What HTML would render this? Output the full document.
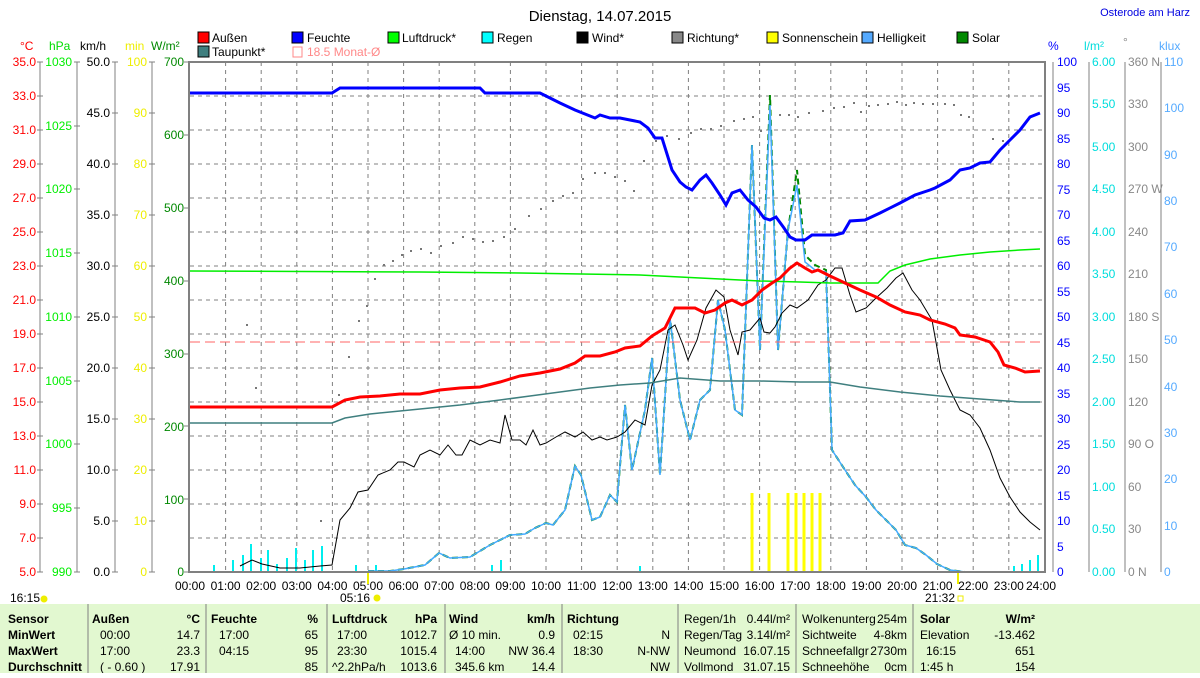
<!DOCTYPE html>
<html><head><meta charset="utf-8"><style>
body{margin:0;background:#fff;width:1200px;height:673px;overflow:hidden;font-family:"Liberation Sans",sans-serif}
svg text{font-family:"Liberation Sans",sans-serif;font-size:12px}
</style></head><body>
<svg width="1200" height="673" viewBox="0 0 1200 673" xmlns="http://www.w3.org/2000/svg">
<rect width="1200" height="673" fill="#fff"/>
<text x="600" y="21" text-anchor="middle" style="font-size:15px">Dienstag, 14.07.2015</text>
<text x="1190" y="16" text-anchor="end" fill="#0000e0" style="font-size:11px">Osterode am Harz</text>
<g style="font-size:12px">
<rect x="198" y="32" width="11" height="11" fill="#f00" stroke="#000"/><text x="212" y="42">Außen</text>
<rect x="292" y="32" width="11" height="11" fill="#00f" stroke="#000"/><text x="307" y="42">Feuchte</text>
<rect x="388" y="32" width="11" height="11" fill="#0f0" stroke="#000"/><text x="402" y="42">Luftdruck*</text>
<rect x="482" y="32" width="11" height="11" fill="#0ff" stroke="#000"/><text x="497" y="42">Regen</text>
<rect x="577" y="32" width="11" height="11" fill="#000" stroke="#000"/><text x="592" y="42">Wind*</text>
<rect x="672" y="32" width="11" height="11" fill="#888" stroke="#000"/><text x="687" y="42">Richtung*</text>
<rect x="767" y="32" width="11" height="11" fill="#ff0" stroke="#000"/><text x="782" y="42">Sonnenschein</text>
<rect x="862" y="32" width="11" height="11" fill="#5af" stroke="#000"/><text x="877" y="42">Helligkeit</text>
<rect x="957" y="32" width="11" height="11" fill="#080" stroke="#000"/><text x="972" y="42">Solar</text>
<rect x="198" y="46" width="11" height="11" fill="#3f7f7f" stroke="#000"/><text x="212" y="56">Taupunkt*</text>
<rect x="293" y="47" width="9" height="10" fill="none" stroke="#f88"/><text x="307" y="56" fill="#f88">18.5 Monat-Ø</text>
</g>
<g style="font-size:11px">
<text x="20" y="50" fill="#f00">°C</text><text x="49" y="50" fill="#0d0">hPa</text><text x="80" y="50">km/h</text>
<text x="125" y="50" fill="#ee0">min</text><text x="151" y="50" fill="#080">W/m²</text>
<text x="1048" y="50" fill="#00f">%</text><text x="1084" y="50" fill="#0dd">l/m²</text><text x="1123" y="46" fill="#888">°</text><text x="1159" y="50" fill="#5af">klux</text>
</g>
<g stroke="#808080" stroke-dasharray="4,4" stroke-width="1">
<line x1="190" y1="96" x2="1044" y2="96"/><line x1="190" y1="130" x2="1044" y2="130"/><line x1="190" y1="164" x2="1044" y2="164"/><line x1="190" y1="198" x2="1044" y2="198"/><line x1="190" y1="232" x2="1044" y2="232"/><line x1="190" y1="266" x2="1044" y2="266"/><line x1="190" y1="300" x2="1044" y2="300"/><line x1="190" y1="334" x2="1044" y2="334"/><line x1="190" y1="368" x2="1044" y2="368"/><line x1="190" y1="402" x2="1044" y2="402"/><line x1="190" y1="436" x2="1044" y2="436"/><line x1="190" y1="470" x2="1044" y2="470"/><line x1="190" y1="504" x2="1044" y2="504"/><line x1="190" y1="538" x2="1044" y2="538"/>
<line x1="225.6" y1="62" x2="225.6" y2="572"/><line x1="261.2" y1="62" x2="261.2" y2="572"/><line x1="296.8" y1="62" x2="296.8" y2="572"/><line x1="332.4" y1="62" x2="332.4" y2="572"/><line x1="368" y1="62" x2="368" y2="572"/><line x1="403.6" y1="62" x2="403.6" y2="572"/><line x1="439.2" y1="62" x2="439.2" y2="572"/><line x1="474.8" y1="62" x2="474.8" y2="572"/><line x1="510.4" y1="62" x2="510.4" y2="572"/><line x1="546" y1="62" x2="546" y2="572"/><line x1="581.6" y1="62" x2="581.6" y2="572"/><line x1="617.2" y1="62" x2="617.2" y2="572"/><line x1="652.8" y1="62" x2="652.8" y2="572"/><line x1="688.4" y1="62" x2="688.4" y2="572"/><line x1="724" y1="62" x2="724" y2="572"/><line x1="759.6" y1="62" x2="759.6" y2="572"/><line x1="795.2" y1="62" x2="795.2" y2="572"/><line x1="830.8" y1="62" x2="830.8" y2="572"/><line x1="866.4" y1="62" x2="866.4" y2="572"/><line x1="902" y1="62" x2="902" y2="572"/><line x1="937.6" y1="62" x2="937.6" y2="572"/><line x1="973.2" y1="62" x2="973.2" y2="572"/><line x1="1008.8" y1="62" x2="1008.8" y2="572"/>
</g>
<g stroke="#808080" stroke-width="1" fill="none">
<line x1="40" y1="62" x2="40" y2="572"/><line x1="77" y1="62" x2="77" y2="572"/><line x1="115" y1="62" x2="115" y2="572"/><line x1="152" y1="62" x2="152" y2="572"/>
<line x1="1053" y1="62" x2="1053" y2="572"/><line x1="1089" y1="62" x2="1089" y2="572"/><line x1="1125" y1="62" x2="1125" y2="572"/><line x1="1161" y1="62" x2="1161" y2="572"/>
<path d="M37 62h6M37 96h6M37 130h6M37 164h6M37 198h6M37 232h6M37 266h6M37 300h6M37 334h6M37 368h6M37 402h6M37 436h6M37 470h6M37 504h6M37 538h6M37 572h6
M74 62h6M74 126h6M74 189h6M74 253h6M74 317h6M74 381h6M74 444h6M74 508h6M74 572h6
M112 62h6M112 113h6M112 164h6M112 215h6M112 266h6M112 317h6M112 368h6M112 419h6M112 470h6M112 521h6M112 572h6
M149 62h6M149 113h6M149 164h6M149 215h6M149 266h6M149 317h6M149 368h6M149 419h6M149 470h6M149 521h6M149 572h6
M184 62h5M184 135h5M184 208h5M184 281h5M184 354h5M184 426h5M184 499h5M184 572h5"/>
</g>
<g style="font-size:12px" text-anchor="end">
<g fill="#f00"><text x="36" y="66">35.0</text><text x="36" y="100">33.0</text><text x="36" y="134">31.0</text><text x="36" y="168">29.0</text><text x="36" y="202">27.0</text><text x="36" y="236">25.0</text><text x="36" y="270">23.0</text><text x="36" y="304">21.0</text><text x="36" y="338">19.0</text><text x="36" y="372">17.0</text><text x="36" y="406">15.0</text><text x="36" y="440">13.0</text><text x="36" y="474">11.0</text><text x="36" y="508">9.0</text><text x="36" y="542">7.0</text><text x="36" y="576">5.0</text></g>
<g fill="#0e0"><text x="72" y="66">1030</text><text x="72" y="130">1025</text><text x="72" y="193">1020</text><text x="72" y="257">1015</text><text x="72" y="321">1010</text><text x="72" y="385">1005</text><text x="72" y="448">1000</text><text x="72" y="512">995</text><text x="72" y="576">990</text></g>
<g fill="#000"><text x="110" y="66">50.0</text><text x="110" y="117">45.0</text><text x="110" y="168">40.0</text><text x="110" y="219">35.0</text><text x="110" y="270">30.0</text><text x="110" y="321">25.0</text><text x="110" y="372">20.0</text><text x="110" y="423">15.0</text><text x="110" y="474">10.0</text><text x="110" y="525">5.0</text><text x="110" y="576">0.0</text></g>
<g fill="#ee0"><text x="147" y="66">100</text><text x="147" y="117">90</text><text x="147" y="168">80</text><text x="147" y="219">70</text><text x="147" y="270">60</text><text x="147" y="321">50</text><text x="147" y="372">40</text><text x="147" y="423">30</text><text x="147" y="474">20</text><text x="147" y="525">10</text><text x="147" y="576">0</text></g>
<g fill="#080"><text x="184" y="66">700</text><text x="184" y="139">600</text><text x="184" y="212">500</text><text x="184" y="285">400</text><text x="184" y="358">300</text><text x="184" y="431">200</text><text x="184" y="504">100</text><text x="184" y="576">0</text></g>
</g>
<g style="font-size:12px">
<g fill="#00f"><text x="1057" y="66">100</text><text x="1057" y="92">95</text><text x="1057" y="117">90</text><text x="1057" y="143">85</text><text x="1057" y="168">80</text><text x="1057" y="194">75</text><text x="1057" y="219">70</text><text x="1057" y="245">65</text><text x="1057" y="270">60</text><text x="1057" y="296">55</text><text x="1057" y="321">50</text><text x="1057" y="347">45</text><text x="1057" y="372">40</text><text x="1057" y="398">35</text><text x="1057" y="423">30</text><text x="1057" y="449">25</text><text x="1057" y="474">20</text><text x="1057" y="500">15</text><text x="1057" y="525">10</text><text x="1057" y="551">5</text><text x="1057" y="576">0</text></g>
<g fill="#0dd"><text x="1092" y="66">6.00</text><text x="1092" y="108">5.50</text><text x="1092" y="151">5.00</text><text x="1092" y="193">4.50</text><text x="1092" y="236">4.00</text><text x="1092" y="278">3.50</text><text x="1092" y="321">3.00</text><text x="1092" y="363">2.50</text><text x="1092" y="406">2.00</text><text x="1092" y="448">1.50</text><text x="1092" y="491">1.00</text><text x="1092" y="533">0.50</text><text x="1092" y="576">0.00</text></g>
<g fill="#888"><text x="1128" y="66">360 N</text><text x="1128" y="108">330</text><text x="1128" y="151">300</text><text x="1128" y="193">270 W</text><text x="1128" y="236">240</text><text x="1128" y="278">210</text><text x="1128" y="321">180 S</text><text x="1128" y="363">150</text><text x="1128" y="406">120</text><text x="1128" y="448">90 O</text><text x="1128" y="491">60</text><text x="1128" y="533">30</text><text x="1128" y="576">0 N</text></g>
<g fill="#5af"><text x="1164" y="66">110</text><text x="1164" y="112">100</text><text x="1164" y="159">90</text><text x="1164" y="205">80</text><text x="1164" y="251">70</text><text x="1164" y="298">60</text><text x="1164" y="344">50</text><text x="1164" y="391">40</text><text x="1164" y="437">30</text><text x="1164" y="483">20</text><text x="1164" y="530">10</text><text x="1164" y="576">0</text></g>
</g>
<g style="font-size:12px" text-anchor="middle">
<text x="190" y="590">00:00</text><text x="225.6" y="590">01:00</text><text x="261.2" y="590">02:00</text><text x="296.8" y="590">03:00</text><text x="332.4" y="590">04:00</text><text x="368" y="590">05:00</text><text x="403.6" y="590">06:00</text><text x="439.2" y="590">07:00</text><text x="474.8" y="590">08:00</text><text x="510.4" y="590">09:00</text><text x="546" y="590">10:00</text><text x="581.6" y="590">11:00</text><text x="617.2" y="590">12:00</text><text x="652.8" y="590">13:00</text><text x="688.4" y="590">14:00</text><text x="724" y="590">15:00</text><text x="759.6" y="590">16:00</text><text x="795.2" y="590">17:00</text><text x="830.8" y="590">18:00</text><text x="866.4" y="590">19:00</text><text x="902" y="590">20:00</text><text x="937.6" y="590">21:00</text><text x="973.2" y="590">22:00</text><text x="1008.8" y="590">23:00</text><text x="1041" y="590">24:00</text>
<text x="355" y="602">05:16</text><text x="940" y="602">21:32</text>
</g>
<text x="10" y="602" style="font-size:12px">16:15</text>
<circle cx="44" cy="599" r="3.5" fill="#ee0"/><circle cx="377" cy="598" r="3.5" fill="#ee0"/><rect x="958" y="596" width="5" height="5" fill="none" stroke="#ee0"/>
<g stroke="#0ee" stroke-width="2">
<line x1="214" y1="572" x2="214" y2="565"/><line x1="233" y1="572" x2="233" y2="560"/><line x1="243" y1="572" x2="243" y2="555"/><line x1="251" y1="572" x2="251" y2="544"/><line x1="261" y1="572" x2="261" y2="558"/><line x1="268" y1="572" x2="268" y2="550"/><line x1="277" y1="572" x2="277" y2="564"/><line x1="287" y1="572" x2="287" y2="558"/><line x1="296" y1="572" x2="296" y2="548"/><line x1="305" y1="572" x2="305" y2="560"/><line x1="313" y1="572" x2="313" y2="550"/><line x1="322" y1="572" x2="322" y2="546"/><line x1="356" y1="572" x2="356" y2="565"/><line x1="376" y1="572" x2="376" y2="565"/><line x1="492" y1="572" x2="492" y2="565"/><line x1="501" y1="572" x2="501" y2="560"/><line x1="640" y1="572" x2="640" y2="566"/><line x1="1014" y1="572" x2="1014" y2="566"/><line x1="1022" y1="572" x2="1022" y2="564"/><line x1="1030" y1="572" x2="1030" y2="560"/><line x1="1038" y1="572" x2="1038" y2="555"/>
</g>
<g stroke="#ff0" stroke-width="3">
<line x1="752" y1="572" x2="752" y2="493"/><line x1="769" y1="572" x2="769" y2="493"/><line x1="788" y1="572" x2="788" y2="493"/><line x1="796" y1="572" x2="796" y2="493"/><line x1="804" y1="572" x2="804" y2="493"/><line x1="812" y1="572" x2="812" y2="493"/><line x1="820" y1="572" x2="820" y2="493"/>
</g>
<line x1="368" y1="572" x2="368" y2="584" stroke="#ee0" stroke-width="2"/><line x1="958" y1="572" x2="958" y2="584" stroke="#ee0" stroke-width="2"/>
<g fill="#777">
<rect x="246" y="324" width="2" height="2"/><rect x="255" y="387" width="2" height="2"/><rect x="320" y="520" width="2" height="2"/><rect x="338" y="394" width="2" height="2"/><rect x="348" y="356" width="2" height="2"/><rect x="358" y="320" width="2" height="2"/><rect x="366" y="305" width="2" height="2"/><rect x="374" y="278" width="2" height="2"/><rect x="383" y="264" width="2" height="2"/><rect x="392" y="260" width="2" height="2"/><rect x="401" y="254" width="2" height="2"/><rect x="410" y="250" width="2" height="2"/><rect x="420" y="248" width="2" height="2"/><rect x="430" y="252" width="2" height="2"/><rect x="440" y="245" width="2" height="2"/><rect x="452" y="242" width="2" height="2"/><rect x="462" y="236" width="2" height="2"/><rect x="472" y="238" width="2" height="2"/><rect x="482" y="241" width="2" height="2"/><rect x="492" y="240" width="2" height="2"/><rect x="503" y="236" width="2" height="2"/><rect x="514" y="228" width="2" height="2"/><rect x="528" y="215" width="2" height="2"/><rect x="540" y="208" width="2" height="2"/><rect x="552" y="200" width="2" height="2"/><rect x="562" y="195" width="2" height="2"/><rect x="572" y="192" width="2" height="2"/><rect x="582" y="178" width="2" height="2"/><rect x="594" y="172" width="2" height="2"/><rect x="604" y="172" width="2" height="2"/><rect x="614" y="176" width="2" height="2"/><rect x="624" y="180" width="2" height="2"/><rect x="633" y="190" width="2" height="2"/><rect x="643" y="160" width="2" height="2"/><rect x="655" y="140" width="2" height="2"/><rect x="666" y="135" width="2" height="2"/><rect x="678" y="138" width="2" height="2"/><rect x="690" y="132" width="2" height="2"/><rect x="700" y="128" width="2" height="2"/><rect x="710" y="128" width="2" height="2"/><rect x="720" y="125" width="2" height="2"/><rect x="733" y="120" width="2" height="2"/><rect x="743" y="118" width="2" height="2"/><rect x="752" y="116" width="2" height="2"/><rect x="760" y="130" width="2" height="2"/><rect x="779" y="114" width="2" height="2"/><rect x="788" y="114" width="2" height="2"/><rect x="797" y="116" width="2" height="2"/><rect x="808" y="112" width="2" height="2"/><rect x="822" y="110" width="2" height="2"/><rect x="833" y="107" width="2" height="2"/><rect x="843" y="106" width="2" height="2"/><rect x="853" y="102" width="2" height="2"/><rect x="860" y="111" width="2" height="2"/><rect x="868" y="105" width="2" height="2"/><rect x="877" y="104" width="2" height="2"/><rect x="887" y="103" width="2" height="2"/><rect x="896" y="101" width="2" height="2"/><rect x="905" y="104" width="2" height="2"/><rect x="913" y="102" width="2" height="2"/><rect x="922" y="103" width="2" height="2"/><rect x="932" y="103" width="2" height="2"/><rect x="944" y="103" width="2" height="2"/><rect x="953" y="104" width="2" height="2"/><rect x="960" y="114" width="2" height="2"/><rect x="968" y="116" width="2" height="2"/><rect x="992" y="138" width="2" height="2"/><rect x="1002" y="140" width="2" height="2"/>
</g>
<polyline fill="none" stroke="#080" stroke-width="2" stroke-dasharray="6,4" points="368,571 390,571 404,569 425,565 439,553 450,558 470,557 490,545 510,535 525,534 535,528 546,523 553,525 565,510 575,466 581,475 592,520 600,517 610,495 617,502 625,405 632,470 645,410 652,358 660,475 670,318 680,400 690,440 700,400 710,390 718,300 725,330 735,410 742,415 752,145 760,350 770,95 778,350 788,230 797,170 805,255 815,265 826,270 832,450 845,470 855,485 866,497 876,510 886,520 896,530 905,545 916,548 926,555 937,564 950,570 965,572"/>
<polyline fill="none" stroke="#4af" stroke-width="1.5" points="368,571 390,571 404,569 425,565 439,553 450,558 470,557 490,545 510,535 525,534 535,528 546,523 553,525 565,510 575,466 581,475 592,520 600,517 610,495 617,502 625,405 632,470 645,410 652,358 660,475 670,318 680,400 690,440 700,400 710,390 718,300 725,330 735,410 742,415 752,145 760,350 770,105 778,350 788,230 797,185 805,262 815,270 826,272 832,450 845,470 855,485 866,497 876,510 886,520 896,530 905,545 916,548 926,555 937,564 950,570 965,572"/>
<polyline fill="none" stroke="#000" stroke-width="1" points="240,566 252,560 262,564 280,568 300,568 320,566 332,565 340,520 350,508 358,492 368,490 378,475 390,470 398,462 404,462 414,467 420,455 430,450 440,455 448,445 456,455 462,455 470,440 480,445 490,440 500,443 505,415 512,440 520,440 526,445 533,430 540,445 546,443 556,437 565,432 575,437 583,432 592,440 600,437 607,440 617,437 625,432 635,420 645,425 652,385 660,370 668,330 675,325 683,345 688,360 697,340 706,308 716,290 724,297 730,330 738,355 742,332 750,330 760,318 764,332 770,333 775,327 782,313 790,305 797,308 808,300 818,285 826,280 835,268 842,268 850,295 856,312 866,308 876,298 887,288 896,278 903,273 912,290 920,300 932,320 941,370 950,390 960,410 970,415 980,428 990,450 1000,478 1010,497 1020,512 1030,522 1040,530"/>
<polyline fill="none" stroke="#0e0" stroke-width="1.5" points="190,271 420,272 520,273 640,275 700,278 760,281 800,282 830,283 878,283 890,271 905,265 930,259 960,255 990,252 1020,250 1040,249"/>
<polyline fill="none" stroke="#3f7f7f" stroke-width="1.5" points="190,423 332,423 345,418 370,414 400,411 430,408 460,405 500,400 530,396 560,392 590,388 620,385 650,383 680,378 720,381 760,381 800,382 830,382 860,387 900,392 940,396 980,399 1020,402 1040,402"/>
<line x1="190" y1="342" x2="1044" y2="342" stroke="#f66" stroke-dasharray="10,5"/>
<polyline fill="none" stroke="#f00" stroke-width="3" points="190,407 332,407 345,400 360,397 380,396 400,394 420,394 440,390 460,388 480,387 500,382 520,376 540,373 560,369 575,363 585,356 600,356 615,352 625,348 640,346 652,336 665,328 675,308 695,308 705,313 715,310 725,303 732,300 742,305 752,300 762,290 772,283 780,278 790,268 797,263 805,268 812,272 818,270 830,276 845,283 860,290 876,297 890,305 905,312 920,315 930,320 945,324 955,328 960,335 975,337 990,342 998,352 1004,365 1015,368 1025,372 1040,371"/>
<polyline fill="none" stroke="#00f" stroke-width="3" points="190,93 332,93 340,88 480,88 485,93 540,93 550,98 560,103 575,110 585,114 595,118 600,115 610,118 620,118 630,120 640,122 648,128 655,138 662,138 672,170 680,182 686,187 692,190 700,180 706,175 712,183 720,195 726,205 732,193 740,190 748,200 756,207 764,218 770,220 776,217 784,228 790,237 796,240 805,240 812,235 835,235 843,233 850,221 865,220 880,213 900,203 915,195 930,190 935,188 950,180 960,170 970,168 980,163 990,162 1000,150 1010,140 1020,130 1030,117 1040,113"/>
<rect x="189" y="62" width="856" height="510" fill="none" stroke="#808080" stroke-width="2"/>
<rect x="0" y="604" width="1200" height="69" fill="#e2f8d0"/>
<g stroke="#808080"><line x1="88" y1="604" x2="88" y2="673"/><line x1="206" y1="604" x2="206" y2="673"/><line x1="327" y1="604" x2="327" y2="673"/><line x1="445" y1="604" x2="445" y2="673"/><line x1="562" y1="604" x2="562" y2="673"/><line x1="678" y1="604" x2="678" y2="673"/><line x1="796" y1="604" x2="796" y2="673"/><line x1="913" y1="604" x2="913" y2="673"/></g>
<g style="font-size:12px">
<g font-weight="bold"><text x="8" y="623">Sensor</text><text x="8" y="639">MinWert</text><text x="8" y="655">MaxWert</text><text x="8" y="671">Durchschnitt</text>
<text x="92" y="623">Außen</text><text x="200" y="623" text-anchor="end">°C</text>
<text x="211" y="623">Feuchte</text><text x="318" y="623" text-anchor="end">%</text>
<text x="332" y="623">Luftdruck</text><text x="437" y="623" text-anchor="end">hPa</text>
<text x="449" y="623">Wind</text><text x="555" y="623" text-anchor="end">km/h</text>
<text x="567" y="623">Richtung</text>
<text x="920" y="623">Solar</text><text x="1035" y="623" text-anchor="end">W/m²</text></g>
<text x="100" y="639">00:00</text><text x="200" y="639" text-anchor="end">14.7</text>
<text x="100" y="655">17:00</text><text x="200" y="655" text-anchor="end">23.3</text>
<text x="100" y="671">( - 0.60 )</text><text x="200" y="671" text-anchor="end">17.91</text>
<text x="219" y="639">17:00</text><text x="318" y="639" text-anchor="end">65</text>
<text x="219" y="655">04:15</text><text x="318" y="655" text-anchor="end">95</text><text x="318" y="671" text-anchor="end">85</text>
<text x="337" y="639">17:00</text><text x="437" y="639" text-anchor="end">1012.7</text>
<text x="337" y="655">23:30</text><text x="437" y="655" text-anchor="end">1015.4</text>
<text x="332" y="671">^2.2hPa/h</text><text x="437" y="671" text-anchor="end">1013.6</text>
<text x="449" y="639">Ø 10 min.</text><text x="555" y="639" text-anchor="end">0.9</text>
<text x="455" y="655">14:00</text><text x="555" y="655" text-anchor="end">NW 36.4</text>
<text x="455" y="671">345.6 km</text><text x="555" y="671" text-anchor="end">14.4</text>
<text x="573" y="639">02:15</text><text x="670" y="639" text-anchor="end">N</text>
<text x="573" y="655">18:30</text><text x="670" y="655" text-anchor="end">N-NW</text><text x="670" y="671" text-anchor="end">NW</text>
<text x="684" y="623">Regen/1h</text><text x="790" y="623" text-anchor="end">0.44l/m²</text>
<text x="684" y="639">Regen/Tag</text><text x="790" y="639" text-anchor="end">3.14l/m²</text>
<text x="684" y="655">Neumond</text><text x="790" y="655" text-anchor="end">16.07.15</text>
<text x="684" y="671">Vollmond</text><text x="790" y="671" text-anchor="end">31.07.15</text>
<text x="802" y="623">Wolkenunterg</text><text x="907" y="623" text-anchor="end">254m</text>
<text x="802" y="639">Sichtweite</text><text x="907" y="639" text-anchor="end">4-8km</text>
<text x="802" y="655">Schneefallgr</text><text x="907" y="655" text-anchor="end">2730m</text>
<text x="802" y="671">Schneehöhe</text><text x="907" y="671" text-anchor="end">0cm</text>
<text x="920" y="639">Elevation</text><text x="1035" y="639" text-anchor="end">-13.462</text>
<text x="926" y="655">16:15</text><text x="1035" y="655" text-anchor="end">651</text>
<text x="920" y="671">1:45 h</text><text x="1035" y="671" text-anchor="end">154</text>
</g>
</svg>
</body></html>
